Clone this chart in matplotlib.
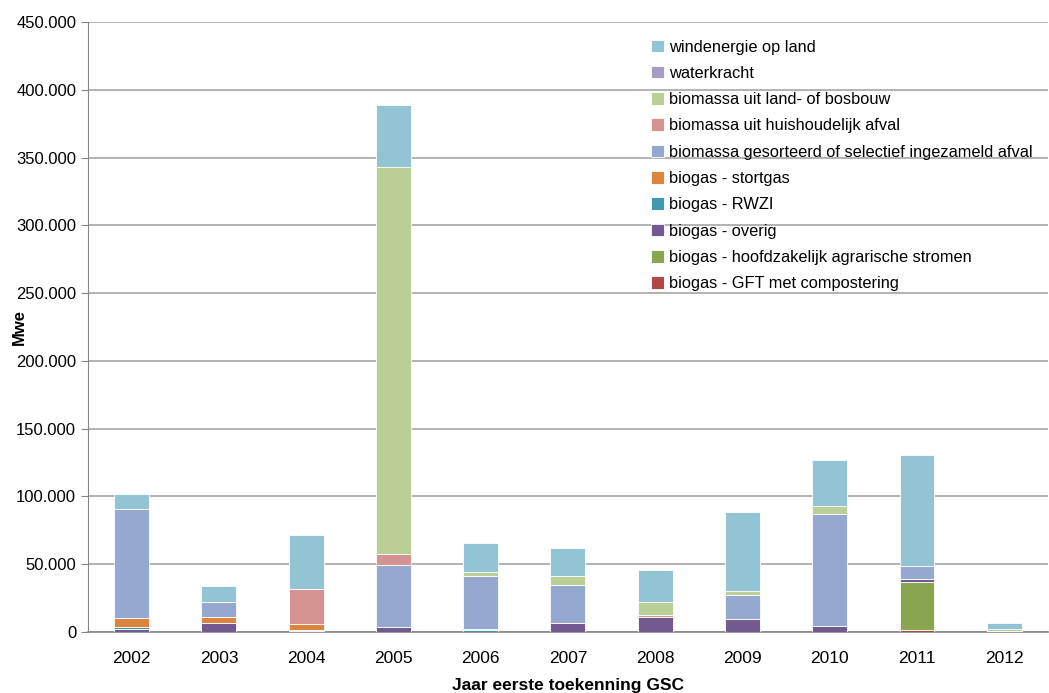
import matplotlib.pyplot as plt
from matplotlib.ticker import FuncFormatter
import numpy as np

plt.rcParams['font.family'] = ['Liberation Sans', 'DejaVu Sans']

years = ['2002', '2003', '2004', '2005', '2006', '2007', '2008', '2009', '2010', '2011', '2012']

# values in thousands (axis shows 450.000 etc.), stacked bottom -> top
gft = [0, 0, 0, 0, 0, 0, 0, 0, 0, 1.2, 0]
agrarisch = [0, 0, 0, 0, 0, 0, 0, 0, 0, 35.9, 0.8]
overig = [2, 7, 0.8, 4, 0, 6.7, 11.3, 9.3, 4.7, 2, 0]
rwzi = [1.5, 0, 0.7, 0, 1.5, 0.3, 0, 0, 0, 0, 0]
stortgas = [6.5, 4.3, 4.4, 0, 0.5, 0, 0, 0, 0, 0, 0]
gesorteerd = [80.5, 11, 0, 45.4, 39.3, 27.8, 0, 18, 82.6, 9.8, 0]
huishoudelijk = [0, 0, 25.6, 8.4, 0, 0, 1.2, 0, 0, 0, 0]
land_bosbouw = [0, 0, 0, 285, 3, 6.6, 9.3, 3, 5.7, 0, 1.2]
waterkracht = [0, 0, 0, 0, 0, 0, 0, 0, 0, 0, 0]
wind = [11, 11.6, 40, 46, 21.3, 20.4, 24.3, 58.2, 33.9, 81.7, 4.4]

series = [
    ('biogas - GFT met compostering', gft, '#B04845'),
    ('biogas - hoofdzakelijk agrarische stromen', agrarisch, '#8AA54F'),
    ('biogas - overig', overig, '#725990'),
    ('biogas - RWZI', rwzi, '#4199B1'),
    ('biogas - stortgas', stortgas, '#DD843C'),
    ('biomassa gesorteerd of selectief ingezameld afval', gesorteerd, '#95A9D0'),
    ('biomassa uit huishoudelijk afval', huishoudelijk, '#D49291'),
    ('biomassa uit land- of bosbouw', land_bosbouw, '#BACF95'),
    ('waterkracht', waterkracht, '#A89BC3'),
    ('windenergie op land', wind, '#93C4D4'),
]

fig = plt.figure(figsize=(10.49, 6.93), dpi=100)
ax = fig.add_axes([0.0839, 0.088, 0.915, 0.880])

x = np.arange(len(years))
bottom = np.zeros(len(years))
for label, vals, color in series:
    ax.bar(x, vals, 0.4, bottom=bottom, color=color, label=label,
           edgecolor='white', linewidth=0.6, zorder=3)
    bottom += np.array(vals)

ax.set_ylim(0, 450)
ax.set_xlim(-0.5, len(years) - 0.5)
ax.set_yticks(np.arange(0, 451, 50))
ax.yaxis.set_major_formatter(FuncFormatter(lambda v, p: '0' if v == 0 else f'{v:.3f}'))
ax.set_xticks(x)
ax.set_xticklabels(years)
ax.grid(axis='y', color='#A6A6A6', linewidth=1.2, zorder=0)
for s in ['top', 'right']:
    ax.spines[s].set_visible(False)
ax.spines['left'].set_color('#868686')
ax.spines['bottom'].set_color('#868686')
ax.spines['bottom'].set_linewidth(1.2)
ax.tick_params(axis='x', length=0, labelsize=12.5, pad=14)
ax.tick_params(axis='y', length=5, color='#868686', labelsize=12)

ax.set_ylabel('Mwe', fontsize=12, fontweight='bold')
ax.yaxis.set_label_coords(-0.064, 0.5)
ax.set_xlabel('Jaar eerste toekenning GSC', fontsize=12.5, fontweight='bold', labelpad=8)

handles, labels = ax.get_legend_handles_labels()
ax.legend(handles[::-1], labels[::-1], loc='upper left', bbox_to_anchor=(0.578, 0.985),
          frameon=False, fontsize=11.8, handlelength=0.8, handleheight=0.8,
          handletextpad=0.3, labelspacing=0.69, borderpad=0)

fig.savefig('out.png', dpi=100)
